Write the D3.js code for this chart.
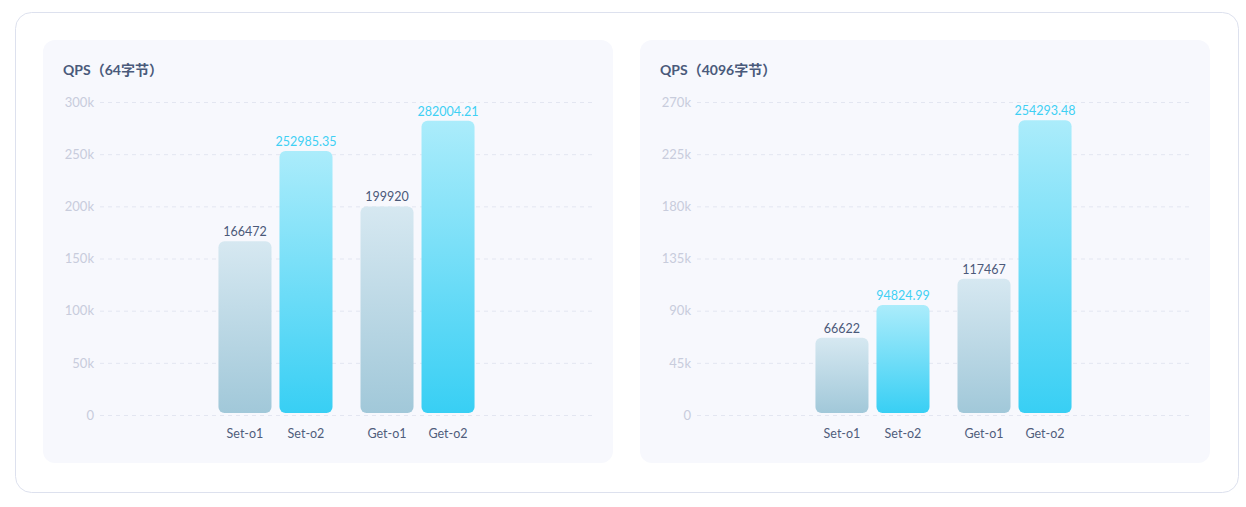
<!DOCTYPE html>
<html>
<head>
<meta charset="utf-8">
<script src="https://cdn.jsdelivr.net/npm/d3@7"></script>
<style>
  body { margin: 0; background: #fff; font-family: Lato, "Noto Sans CJK SC", sans-serif; }
</style>
</head>
<body>
<div id="chart"></div>
<script>
// data
let groups = ["Set", "Get"];
let series = ["o1", "o2"];
let titles = ["QPS（64字节）", "QPS（4096字节）"];
let qps64 = [166472, 252985.35, 199920, 282004.21];     // Set-o1, Set-o2, Get-o1, Get-o2
let qps4096 = [66622, 94824.99, 117467, 254293.48];
let ticks64 = [0, 50000, 100000, 150000, 200000, 250000, 300000];
let ticks4096 = [0, 45000, 90000, 135000, 180000, 225000, 270000];

let W = 1246, H = 507;
let svg = d3.select("#chart").append("svg")
    .attr("width", W)
    .attr("height", H);

let defs = svg.append("defs");
function grad(id, top, bottom) {
    let g = defs.append("linearGradient").attr("id", id)
        .attr("x1", 0).attr("y1", 0).attr("x2", 0).attr("y2", 1);
    g.append("stop").attr("offset", "0%").attr("stop-color", top);
    g.append("stop").attr("offset", "100%").attr("stop-color", bottom);
}
grad("g-o1", "#d6e8f1", "#a1c8d9");
grad("g-o2", "#abecfb", "#38cff4");

// outer frame
svg.append("rect")
    .attr("x", 15.5).attr("y", 12.5)
    .attr("width", 1223).attr("height", 480)
    .attr("rx", 16)
    .attr("fill", "#fff")
    .attr("stroke", "#dde1ee");

function drawPanel(px, title, values, tickVals) {
    let margin = {top: 102, left: 57, right: 20},
        plotW = 570 - margin.left - margin.right,
        plotH = 415 - margin.top;

    let panel = svg.append("g").attr("transform", "translate(" + px + ",40)");
    panel.append("rect")
        .attr("width", 570).attr("height", 423)
        .attr("rx", 12)
        .attr("fill", "#f7f8fd");

    panel.append("text")
        .attr("x", 20).attr("y", 35)
        .attr("font-size", 14).attr("font-weight", "bold")
        .attr("fill", "#4a5a7b")
        .text(title);

    let g = panel.append("g").attr("transform", "translate(" + margin.left + "," + (margin.top - 40) + ")");

    let y = d3.scaleLinear()
        .domain([0, d3.max(tickVals)])
        .range([plotH, 0]);
    let x0 = d3.scaleBand()
        .domain(groups)
        .range([0, plotW])
        .paddingInner(0.197)
        .paddingOuter(0.834);
    let x1 = d3.scaleBand()
        .domain(series)
        .range([0, x0.bandwidth()])
        .paddingInner(0.131);

    // grid + y axis
    let yAxis = g.append("g")
        .call(d3.axisLeft(y).tickValues(tickVals)
            .tickSize(-plotW)
            .tickFormat(function(d) { return d === 0 ? "0" : (d / 1000) + "k"; }));
    yAxis.select(".domain").remove();
    yAxis.selectAll(".tick line")
        .attr("stroke", "#e3e6f1")
        .attr("stroke-dasharray", "4,4");
    yAxis.selectAll(".tick text")
        .attr("x", -6)
        .attr("fill", "#c8ccdc")
        .attr("font-size", 13)
        .attr("font-family", "Lato, sans-serif");

    let data = [];
    groups.forEach(function(gr, i) {
        series.forEach(function(s, j) {
            data.push({group: gr, series: s, value: values[i * 2 + j]});
        });
    });

    let bars = g.selectAll(".bar")
        .data(data)
        .enter().append("g")
        .attr("transform", function(d) { return "translate(" + (x0(d.group) + x1(d.series)) + ",0)"; });

    bars.append("rect")
        .attr("y", function(d) { return y(d.value); })
        .attr("width", x1.bandwidth())
        .attr("height", function(d) { return plotH - 2 - y(d.value); })
        .attr("rx", 6)
        .attr("fill", function(d) { return "url(#g-" + d.series + ")"; });

    bars.append("text")
        .attr("x", x1.bandwidth() / 2)
        .attr("y", function(d) { return y(d.value) - 5; })
        .attr("text-anchor", "middle")
        .attr("font-size", 12.5)
        .attr("fill", function(d) { return d.series === "o1" ? "#4b5979" : "#3fd0f4"; })
        .text(function(d) { return d.value; });

    bars.append("text")
        .attr("x", x1.bandwidth() / 2)
        .attr("y", plotH + 23)
        .attr("text-anchor", "middle")
        .attr("font-size", 12.5)
        .attr("fill", "#505d7c")
        .text(function(d) { return d.group + "-" + d.series; });
}

drawPanel(43, titles[0], qps64, ticks64);
drawPanel(640, titles[1], qps4096, ticks4096);
</script>
</body>
</html>
